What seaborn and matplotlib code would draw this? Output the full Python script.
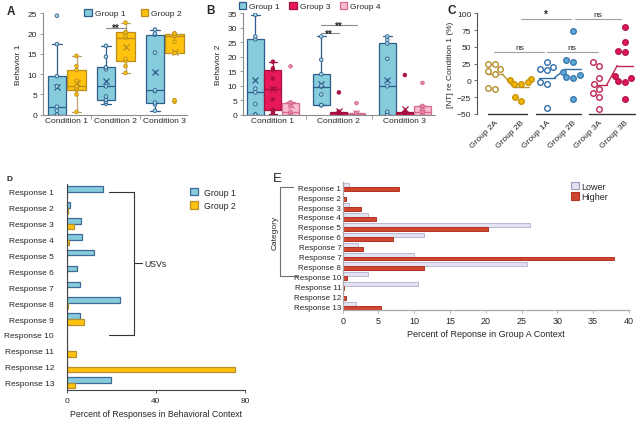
import numpy as np
import pandas as pd
import matplotlib
matplotlib.use("Agg")
import matplotlib.pyplot as plt
import seaborn as sns
from matplotlib.patches import Patch
from matplotlib.transforms import blended_transform_factory

sns.set_theme(style="ticks")
plt.rcParams['font.family'] = ['Liberation Sans', 'DejaVu Sans']
plt.rcParams['font.size'] = 6

# ---------------- Data ----------------
conditions = ["Condition 1", "Condition 2", "Condition 3"]

# Panel A (Behavior 1)
a_groups = ["Group 1", "Group 2"]
a_g1_c1 = [0, 0, 0, 1, 2, 7, 9.5, 17.4, 24.4]
a_g1_c2 = [2.7, 3.2, 3.7, 4.5, 7, 11.2, 11.7, 14.3, 17]
a_g1_c3 = [1, 2.5, 3, 5.8, 6, 15.3, 19.7, 20, 21]
a_g2_c1 = [0.7, 5, 6.1, 6.5, 7, 8.4, 11, 12, 14.5]
a_g2_c2 = [10.3, 12, 13.2, 13.8, 19, 19.5, 20.3, 20.3, 22.7]
a_g2_c3 = [3.2, 3.6, 15.2, 18, 19.3, 19.5, 20, 20, 20]

# Panel B (Behavior 2)
b_groups = ["Group 1", "Group 3", "Group 4"]
b_g1_c1 = [0, 0, 0, 3.7, 7.7, 9, 26, 27, 34.5]
b_g1_c2 = [3.3, 3.3, 3.3, 7, 9.7, 10, 14, 19, 27]
b_g1_c3 = [0, 0, 0, 1, 9.8, 19.3, 24.6, 25.8, 27]
b_g3_c1 = [0.3, 1, 1.7, 5.3, 9, 12.5, 15.3, 16, 18.3]
b_g3_c2 = [0, 0, 0, 0, 0.5, 0.8, 1, 1, 7.7]
b_g3_c3 = [0, 0, 0, 0, 0.5, 0.8, 1, 1, 13.7]
b_g4_c1 = [0, 0, 0, 0.5, 1, 3, 4, 4.3, 16.7]
b_g4_c2 = [0, 0, 0, 0, 0.3, 0.5, 0.6, 0.6, 4]
b_g4_c3 = [0, 0, 0, 0.5, 1, 2, 3, 3, 11]

# Panel C
c_keys = ["2A", "2B", "1A", "2B_b", "3A", "3B"]
c_labels = ["Group 2A", "Group 2B", "Group 1A", "Group 2B", "Group 3A", "Group 3B"]
c_group2a = [25, 24, 17, 14, 10, -12, -13]
c_group2b = [2, 0, -3, -5, -6, -24, -30]
c_group1a = [27, 20, 17, 15, -2, -6, -41]
c_group2b_second = [73, 31, 28, 12, 8, 5, 4, -28]
c_group3a = [28, 22, 3, -6, -13, -19, -24, -42]
c_group3b = [80, 57, 44, 42, 6, 3, -1, -3, -28]

# Panel D
d_responses = [f"Response {i}" for i in range(1, 14)]
d_group1 = [16.4, 1.5, 6.4, 6.7, 12.3, 4.8, 5.8, 23.9, 5.8, 0.3, 0.2, 0, 19.7]
d_group2 = [0, 0.5, 3.4, 1.2, 0.3, 0.3, 0, 0.5, 7.9, 0.3, 4.3, 75.6, 3.9]

# Panel E
e_labels = ["Response 1", "Response 2", "Response 3", "Response 4", "Response 5",
            "Response 6", "Response 7", "Response 7", "Response 8", "Response 10",
            "Response 11", "Response 12", "Response 13"]
e_lower = [0.9, 0, 0.9, 3.5, 26.2, 11.4, 2.2, 9.9, 25.8, 3.5, 10.5, 0, 1.8]
e_higher = [7.8, 0.4, 2.5, 4.7, 20.3, 7.1, 2.8, 37.9, 11.4, 0.6, 0.2, 0.4, 5.3]

# ---------------- Styles ----------------
styles = {
    "Group 1": dict(face="#86CCDD", edge="#2E5D8C", whisk="#2E5D8C", pt="#A6D8E6"),
    "Group 2": dict(face="#FFC20E", edge="#BA8E1E", whisk="#BCA373", pt="#FFC20E"),
    "Group 3": dict(face="#E8185A", edge="#A3123F", whisk="#A3123F", pt="#B0103C"),
    "Group 4": dict(face="#F8BBD0", edge="#D56B92", whisk="#D56B92", pt="#E586A8"),
}
SP = "#8C8C8C"

fig = plt.figure(figsize=(6.4, 4.27), dpi=100)


def long_df(groups, arrays):
    rows = []
    for g, per_cond in zip(groups, arrays):
        for c, vals in zip(conditions, per_cond):
            for v in vals:
                rows.append((g, c, v))
    return pd.DataFrame(rows, columns=["group", "condition", "value"])


def draw_boxes(ax, df, groups, gap):
    for g in groups:
        st = styles[g]
        sub = df[df["group"] == g]
        pal = {k: st["face"] for k in groups}
        sns.boxplot(data=sub, x="condition", y="value", hue="group", order=conditions,
                    hue_order=groups, palette=pal, saturation=1, width=0.8, gap=gap,
                    dodge=True, showfliers=False, showmeans=True, linecolor=st["edge"],
                    linewidth=0.9,
                    meanprops=dict(marker="x", markeredgecolor=st["edge"],
                                   markerfacecolor=st["edge"], markersize=4.5,
                                   markeredgewidth=0.9),
                    whiskerprops=dict(color=st["whisk"]), capprops=dict(color=st["whisk"]),
                    legend=False, ax=ax)
        pal_pt = {k: st["pt"] for k in groups}
        sns.stripplot(data=sub, x="condition", y="value", hue="group", order=conditions,
                      hue_order=groups, palette=pal_pt, dodge=True, jitter=False, size=2.6,
                      edgecolor=st["edge"], linewidth=0.6, legend=False, ax=ax, zorder=5)


def style_box_axes(ax):
    for s in ["top", "right"]:
        ax.spines[s].set_visible(False)
    for s in ["left", "bottom"]:
        ax.spines[s].set_color(SP)
        ax.spines[s].set_linewidth(0.8)
    ax.tick_params(axis="y", length=2.5, width=0.6, color=SP, labelsize=6, pad=1.5)
    ax.tick_params(axis="x", which="major", length=0, labelsize=6, pad=2)
    ax.set_xticks([0.5, 1.5], minor=True)
    ax.tick_params(axis="x", which="minor", length=3, width=0.6, color=SP)
    ax.set_xlabel("")


def box_legend(ax, groups, anchor, colsp):
    ax.legend(handles=[Patch(facecolor=styles[g]["face"], edgecolor=styles[g]["edge"],
                             linewidth=0.9, label=g) for g in groups],
              loc="center", bbox_to_anchor=anchor, ncol=len(groups), frameon=False,
              fontsize=6, handlelength=0.9, handleheight=0.9, columnspacing=colsp,
              handletextpad=0.4, borderaxespad=0, borderpad=0)


# ---------------- Panel A ----------------
axA = fig.add_axes([0.0667, 0.729, 0.2255, 0.2375])
dfA = long_df(a_groups, [[a_g1_c1, a_g1_c2, a_g1_c3], [a_g2_c1, a_g2_c2, a_g2_c3]])
draw_boxes(axA, dfA, a_groups, 0.06)
style_box_axes(axA)
axA.set_xlim(-0.49, 2.455)
axA.set_ylim(0, 25)
axA.set_yticks([0, 5, 10, 15, 20, 25])
axA.set_ylabel("Behavior 1", fontsize=6, labelpad=4)
axA.plot([0.8, 1.2], [21.4, 21.4], color=SP, lw=0.8)
axA.text(1.0, 20.7, "**", ha="center", va="baseline", fontsize=7, fontweight="bold")
box_legend(axA, a_groups, (0.626, 1.0), 1.8)

# ---------------- Panel B ----------------
axB = fig.add_axes([0.379, 0.729, 0.300, 0.2375])
dfB = long_df(b_groups, [[b_g1_c1, b_g1_c2, b_g1_c3], [b_g3_c1, b_g3_c2, b_g3_c3],
                         [b_g4_c1, b_g4_c2, b_g4_c3]])
draw_boxes(axB, dfB, b_groups, 0.03)
style_box_axes(axB)
axB.set_xlim(-0.46, 2.45)
axB.set_ylim(0, 35)
axB.set_yticks([0, 5, 10, 15, 20, 25, 30, 35])
axB.set_ylabel("Behavior 2", fontsize=6, labelpad=4)
axB.plot([0.733, 1.0], [28.1, 28.1], color=SP, lw=0.8)
axB.text(0.85, 27.0, "**", ha="center", va="baseline", fontsize=7, fontweight="bold")
axB.plot([0.733, 1.267], [30.8, 30.8], color=SP, lw=0.8)
axB.text(1.0, 29.7, "**", ha="center", va="baseline", fontsize=7, fontweight="bold")
box_legend(axB, b_groups, (0.35, 1.07), 1.1)

# ---------------- Panel C ----------------
axC = fig.add_axes([0.745, 0.7307, 0.250, 0.2358])
c_values = [c_group2a, c_group2b, c_group1a, c_group2b_second, c_group3a, c_group3b]
c_colors = ["#C9A343", "#F2B705", "#2F6FA8", "#5FA9D8", "#C0264F", "#E0185A"]
c_edges = ["#B58E2E", "#C9940A", "#2F6FA8", "#3A78AE", "#C0264F", "#B8134A"]
c_filled = [False, True, False, True, False, True]
c_lines = ["#B8963C", "#B8963C", "#2F6FA8", "#2F6FA8", "#C0264F", "#C0264F"]
dfC = pd.DataFrame([(k, v) for k, vals in zip(c_keys, c_values) for v in vals],
                   columns=["key", "value"])
for k, col, ec, filled in zip(c_keys, c_colors, c_edges, c_filled):
    sub = dfC[dfC["key"] == k]
    sns.swarmplot(data=sub, x="key", y="value", order=c_keys,
                  color=(col if filled else "white"), edgecolor=ec, linewidth=1.0,
                  size=4, ax=axC, zorder=4)
means = [np.mean(v) for v in c_values]
for i, (m, lc) in enumerate(zip(means, c_lines)):
    axC.plot([i - 0.3, i + 0.3], [m, m], color=lc, lw=1.0, zorder=3)
for i in (0, 2, 4):
    axC.plot([i + 0.3, i + 0.7], [means[i], means[i + 1]], color=c_lines[i], lw=1.0, zorder=3)
axC.set_xlim(-0.69, 5.45)
axC.set_ylim(-50, 100)
axC.set_yticks([-50, -25, 0, 25, 50, 75, 100])
axC.set_xticks(range(6))
axC.set_xticklabels(c_labels, rotation=45, ha="right", rotation_mode="anchor")
axC.tick_params(axis="x", length=0, labelsize=6, pad=3)
axC.tick_params(axis="y", length=2.5, width=0.6, color="#555555", labelsize=6, pad=1.5)
for s in ["top", "right", "bottom"]:
    axC.spines[s].set_visible(False)
axC.spines["left"].set_color("#555555")
axC.spines["left"].set_linewidth(0.8)
for x0, x1 in [(-0.27, 1.25), (1.6, 3.3), (3.6, 5.4)]:
    axC.plot([x0, x1], [-50, -50], color="#333333", lw=1.0, clip_on=False)
axC.set_xlabel("")
axC.set_ylabel("[NT] re Condition 1 (%)", fontsize=6, labelpad=2)
BR = "#A0A0A0"
axC.plot([1.0, 2.93], [91.5, 91.5], color=BR, lw=0.8, clip_on=False)
axC.text(1.97, 92, "*", ha="center", va="bottom", fontsize=7, fontweight="bold")
axC.plot([3.07, 4.85], [91.5, 91.5], color=BR, lw=0.8, clip_on=False)
axC.text(3.95, 92.5, "ns", ha="center", va="bottom", fontsize=6)
axC.plot([-0.04, 1.9], [42.5, 42.5], color=BR, lw=0.8)
axC.text(0.95, 43.5, "ns", ha="center", va="bottom", fontsize=6)
axC.plot([2.0, 3.98], [42.5, 42.5], color=BR, lw=0.8)
axC.text(2.95, 43.5, "ns", ha="center", va="bottom", fontsize=6)

# ---------------- Panel D ----------------
axD = fig.add_axes([0.104, 0.085, 0.279, 0.4817])
dfD = pd.DataFrame({"response": d_responses * 2,
                    "group": ["Group 1"] * 13 + ["Group 2"] * 13,
                    "value": d_group1 + d_group2})
sns.barplot(data=dfD, y="response", x="value", hue="group", order=d_responses,
            hue_order=a_groups, palette={"Group 1": "#86CCDD", "Group 2": "#FFC20E"},
            saturation=1, width=0.72, errorbar=None, legend=False, ax=axD)
for cont, ec in zip(axD.containers, ["#3D6B96", "#B8902A"]):
    for p in cont:
        p.set_edgecolor(ec)
        p.set_linewidth(0.9)
axD.set_xlim(0, 80)
axD.set_xticks([0, 40, 80])
axD.set_ylim(12.45, -0.5)
axD.set_ylabel("")
axD.set_xlabel("Percent of Responses in Behavioral Context", fontsize=6.3, labelpad=3)
for s in ["top", "right"]:
    axD.spines[s].set_visible(False)
for s in ["left", "bottom"]:
    axD.spines[s].set_color("#444444")
    axD.spines[s].set_linewidth(0.8)
axD.tick_params(axis="y", length=0, labelsize=6, pad=9)
axD.tick_params(axis="x", length=2.5, width=0.6, color="#444444", labelsize=6, pad=3)
BK = "#333333"
axD.plot([19.1, 30.3, 30.3, 19.1], [0, 0, 9, 9], color=BK, lw=0.8, clip_on=False)
axD.plot([30.3, 33.6], [4.5, 4.5], color=BK, lw=0.8, clip_on=False)
axD.text(35.0, 4.5, "USVs", ha="left", va="center", fontsize=6.3)
axD.legend(handles=[Patch(facecolor="#86CCDD", edgecolor="#3D6B96", linewidth=0.9, label="Group 1"),
                    Patch(facecolor="#FFC20E", edgecolor="#B8902A", linewidth=0.9, label="Group 2")],
           loc="upper left", bbox_to_anchor=(0.67, 1.0), frameon=False, fontsize=6.3,
           handlelength=1.0, handleheight=1.0, handletextpad=0.6, labelspacing=0.5,
           borderaxespad=0)

# ---------------- Panel E ----------------
axE = fig.add_axes([0.5355, 0.2717, 0.447, 0.2998])
e_keys = [f"k{i}" for i in range(len(e_labels))]
dfE = pd.DataFrame({"key": e_keys * 2,
                    "level": ["Lower"] * 13 + ["Higher"] * 13,
                    "value": e_lower + e_higher})
sns.barplot(data=dfE, y="key", x="value", hue="level", order=e_keys,
            hue_order=["Lower", "Higher"], palette={"Lower": "#E2E2F2", "Higher": "#D04430"},
            saturation=1, width=0.8, errorbar=None, legend=False, ax=axE)
for cont, ec in zip(axE.containers, ["#B9B9D2", "#B23422"]):
    for p in cont:
        p.set_edgecolor(ec)
        p.set_linewidth(0.7)
axE.set_yticks(range(len(e_labels)))
axE.set_yticklabels(e_labels)
axE.set_xlim(0, 40)
axE.set_xticks(range(0, 41, 5))
axE.set_ylim(12.4, -0.53)
axE.set_ylabel("")
axE.set_xlabel("Percent of Reponse in Group A Context", fontsize=6.5, labelpad=3)
for s in ["top", "right"]:
    axE.spines[s].set_visible(False)
for s in ["left", "bottom"]:
    axE.spines[s].set_color("#A8A8A8")
    axE.spines[s].set_linewidth(0.9)
axE.tick_params(axis="y", length=0, labelsize=5.8, pad=1)
axE.tick_params(axis="x", length=2.5, width=0.6, color="#A8A8A8", labelsize=6.5, pad=2)
trE = blended_transform_factory(axE.transAxes, axE.transData)
GR = "#707070"
axE.plot([-0.174, -0.219, -0.219, -0.160], [0, 0, 9, 9], color=GR, lw=0.8,
         transform=trE, clip_on=False)
axE.text(-0.238, 4.5, "Category", rotation=90, ha="center", va="center", fontsize=6,
         transform=trE)
axE.legend(handles=[Patch(facecolor="#E2E2F2", edgecolor="#9C9CBA", linewidth=0.8, label="Lower"),
                    Patch(facecolor="#D04430", edgecolor="#B23422", linewidth=0.8, label="Higher")],
           loc="upper left", bbox_to_anchor=(0.785, 1.03), frameon=False, fontsize=6.5,
           handlelength=0.9, handleheight=0.9, handletextpad=0.3, labelspacing=0.15,
           borderaxespad=0)

# ---------------- Panel letters ----------------
fig.text(0.011, 0.986, "A", fontsize=8.5, fontweight="bold", va="top", ha="left")
fig.text(0.322, 0.989, "B", fontsize=8.5, fontweight="bold", va="top", ha="left")
fig.text(0.699, 0.989, "C", fontsize=8.5, fontweight="bold", va="top", ha="left")
fig.text(0.010, 0.588, "D", fontsize=6, fontweight="bold", va="top", ha="left")
fig.text(0.426, 0.596, "E", fontsize=9.5, va="top", ha="left")

fig.savefig("out.png", dpi=100)
